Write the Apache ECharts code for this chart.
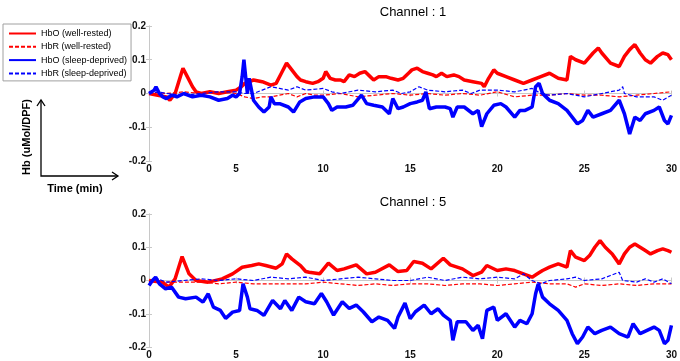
<!DOCTYPE html>
<html>
<head>
<meta charset="utf-8">
<script src="https://cdn.jsdelivr.net/npm/echarts@6/dist/echarts.min.js"></script>
<style>
  html, body { margin: 0; padding: 0; background: #fff; }
  #chart { width: 680px; height: 361px; }
</style>
</head>
<body>
<div id="chart"></div>
<script>
// series names / titles
const seriesNames = ["HbO (well-rested)", "HbR (well-rested)", "HbO (sleep-deprived)", "HbR (sleep-deprived)"];
const channelTitles = ["Channel : 1", "Channel : 5"];

// Channel 1 — [time (min), Hb]
const ch1HboRested = [
    [0, 0], [0.5, -0.005], [1, -0.01], [1.2, -0.02], [1.5, 0], [1.8, 0.05], [1.95, 0.075], [2.2, 0.05],
    [2.5, 0.02], [2.7, 0.005], [3, 0], [3.5, 0.005], [4, 0], [4.5, 0.005], [5, 0.01], [5.3, 0.02],
    [5.5, 0.03], [6, 0.04], [6.5, 0.035], [7, 0.025], [7.3, 0.03], [7.6, 0.06], [7.9, 0.09], [8.2, 0.07],
    [8.5, 0.05], [8.7, 0.04], [9, 0.035], [9.4, 0.03], [9.7, 0.035], [10, 0.045], [10.15, 0.065], [10.4, 0.045],
    [10.7, 0.04], [11, 0.04], [11.2, 0.035], [11.5, 0.055], [11.8, 0.05], [12.1, 0.06], [12.4, 0.065], [12.7, 0.05],
    [12.9, 0.04], [13.2, 0.05], [13.6, 0.05], [13.9, 0.045], [14.3, 0.04], [14.6, 0.045], [14.9, 0.06], [15.1, 0.07],
    [15.4, 0.075], [15.7, 0.065], [16, 0.06], [16.3, 0.055], [16.5, 0.05], [16.8, 0.06], [17.1, 0.05], [17.5, 0.055],
    [17.8, 0.05], [18.1, 0.04], [18.6, 0.035], [19.1, 0.03], [19.25, 0.02], [19.5, 0.045], [19.8, 0.07], [20, 0.06],
    [20.5, 0.05], [21, 0.04], [21.5, 0.03], [22, 0.04], [22.5, 0.05], [23, 0.06], [23.5, 0.045], [24, 0.04],
    [24.2, 0.11], [24.5, 0.1], [25, 0.09], [25.5, 0.12], [25.8, 0.135], [26, 0.12], [26.5, 0.09], [27, 0.08],
    [27.3, 0.11], [27.6, 0.13], [27.9, 0.145], [28.2, 0.12], [28.5, 0.1], [28.8, 0.09], [29.2, 0.11], [29.5, 0.12],
    [29.8, 0.115], [30, 0.1]
];
const ch1HbrRested = [
    [0, 0.005], [1, 0], [2, 0.005], [3, 0], [4, 0.005], [5, 0], [5.5, -0.01], [6, -0.015], [6.5, -0.01],
    [7, -0.01], [7.5, -0.005], [8, 0], [8.5, -0.01], [9, 0], [9.5, -0.005], [10, -0.005], [11, 0],
    [11.5, -0.005], [12, -0.01], [13, -0.005], [14, 0], [15, -0.005], [16, 0], [17, -0.005], [18, 0],
    [19, -0.005], [20, 0.005], [21, -0.01], [22, -0.005], [23, -0.005], [24, 0], [25, -0.005], [26, -0.005],
    [27, -0.01], [28, -0.005], [29, 0], [30, 0.005]
];
const ch1HboDeprived = [
    [0, 0], [0.3, 0.01], [0.4, 0.02], [0.6, 0], [0.8, -0.01], [1, -0.015], [1.3, -0.005], [1.6, -0.01],
    [2, 0], [2.5, -0.01], [3, -0.005], [3.5, -0.01], [4, -0.02], [4.5, -0.015], [4.8, -0.005], [5, -0.01],
    [5.2, 0], [5.35, 0.05], [5.45, 0.1], [5.55, 0.05], [5.65, 0], [5.75, 0.045], [5.85, 0.02], [6, -0.02],
    [6.3, -0.04], [6.6, -0.055], [6.9, -0.04], [7, -0.01], [7.2, -0.03], [7.5, -0.03], [8, -0.04], [8.3, -0.055],
    [8.66, -0.025], [9, -0.015], [9.5, -0.01], [10, -0.01], [10.3, -0.03], [10.5, -0.05], [10.8, -0.04], [11.3, -0.04],
    [11.7, -0.035], [12.2, -0.005], [12.5, -0.03], [12.9, -0.035], [13.4, -0.04], [13.8, -0.06], [14, -0.015], [14.3, -0.045],
    [14.6, -0.04], [15, -0.03], [15.4, -0.025], [15.7, -0.02], [15.9, 0.005], [16.1, -0.045], [16.5, -0.04], [17, -0.04],
    [17.3, -0.045], [17.45, -0.07], [17.7, -0.04], [18.1, -0.04], [18.6, -0.06], [18.9, -0.05], [19.1, -0.098], [19.4, -0.06],
    [19.8, -0.035], [20.2, -0.03], [20.5, -0.04], [21, -0.07], [21.3, -0.05], [21.6, -0.05], [22, -0.04], [22.2, 0.02],
    [22.4, 0.03], [22.6, 0], [22.8, -0.01], [23, -0.02], [23.5, -0.03], [24, -0.05], [24.3, -0.07], [24.6, -0.09],
    [24.9, -0.08], [25.2, -0.05], [25.5, -0.07], [26, -0.06], [26.5, -0.05], [27, -0.02], [27.3, -0.06], [27.6, -0.12],
    [27.9, -0.07], [28.2, -0.08], [28.5, -0.06], [29, -0.05], [29.3, -0.04], [29.6, -0.08], [29.8, -0.09], [30, -0.065]
];
const ch1HbrDeprived = [
    [0, 0], [0.5, 0.005], [1, 0], [2, -0.005], [3, 0], [4, 0.005], [5, 0.005], [5.5, 0], [6, 0], [6.5, 0.01],
    [7, 0.02], [7.5, 0.015], [8, 0.01], [8.5, 0.02], [9, 0.01], [10, 0.015], [10.5, 0.005], [11, 0], [12, 0.01],
    [13, 0.005], [14, 0.01], [14.5, 0], [15, 0.005], [15.5, 0.02], [16, 0.01], [17, 0.005], [18, 0.01], [18.5, 0],
    [19, 0.01], [20, 0.01], [21, 0.005], [22, 0.015], [22.5, 0], [23, -0.005], [24, 0], [25, -0.01], [26, 0],
    [26.5, 0.005], [27, 0.01], [27.2, 0.02], [27.3, 0], [28, -0.01], [29, -0.01], [29.5, -0.02], [30, -0.005]
];

// Channel 5 — [time (min), Hb]
const ch5HboRested = [
    [0, 0], [0.76, -0.005], [1.15, -0.02], [1.5, 0.005], [1.9, 0.072], [2.3, 0.02], [2.7, 0], [3.4, -0.005],
    [4.2, 0.005], [4.8, 0.02], [5.35, 0.04], [5.9, 0.045], [6.3, 0.05], [6.7, 0.045], [7.3, 0.037], [7.65, 0.05],
    [7.9, 0.08], [8.2, 0.065], [8.7, 0.045], [9, 0.027], [9.2, 0.025], [9.8, 0.02], [10.3, 0.052], [10.8, 0.03],
    [11.2, 0.035], [11.9, 0.047], [12.5, 0.02], [13, 0.025], [13.8, 0.047], [14.3, 0.027], [14.8, 0.03], [15.2, 0.057],
    [15.7, 0.052], [16.2, 0.035], [16.9, 0.067], [17.3, 0.047], [18, 0.035], [18.6, 0.015], [19.1, 0.025], [19.4, 0.045],
    [20, 0.03], [20.5, 0.035], [21, 0.03], [21.5, 0.02], [22, 0.01], [22.3, 0.02], [22.6, 0.03], [23, 0.04],
    [23.5, 0.05], [24, 0.04], [24.2, 0.09], [24.5, 0.07], [25, 0.06], [25.3, 0.075], [25.6, 0.1], [25.9, 0.12],
    [26.2, 0.1], [26.6, 0.08], [27, 0.05], [27.3, 0.08], [27.6, 0.1], [27.9, 0.11], [28.2, 0.1], [28.5, 0.09],
    [28.8, 0.08], [29.2, 0.09], [29.5, 0.095], [29.8, 0.09], [30, 0.085]
];
const ch5HbrRested = [
    [0, 0], [1, -0.005], [2, -0.005], [3, -0.005], [4, -0.01], [5, -0.005], [6, -0.01], [7, -0.01], [8, -0.01],
    [9, -0.01], [10, -0.005], [11, -0.01], [12, -0.015], [13, -0.01], [14, -0.015], [15, -0.01], [16, -0.01],
    [17, -0.015], [18, -0.01], [19, -0.01], [20, -0.015], [21, -0.01], [22, -0.005], [23, -0.01], [24, -0.01],
    [24.5, -0.02], [25, -0.01], [26, -0.015], [27, -0.01], [28, -0.015], [29, -0.01], [30, -0.01]
];
const ch5HboDeprived = [
    [0, -0.015], [0.2, 0], [0.38, 0.01], [0.6, -0.01], [0.95, -0.025], [1.3, -0.02], [1.7, -0.05], [2.1, -0.055],
    [2.7, -0.05], [3.1, -0.065], [3.4, -0.04], [3.7, -0.08], [4.1, -0.09], [4.4, -0.114], [4.8, -0.095], [5.2, -0.09],
    [5.4, -0.01], [5.65, -0.05], [5.8, -0.085], [6.2, -0.09], [6.6, -0.105], [7.1, -0.06], [7.55, -0.085], [7.8, -0.06],
    [8.2, -0.09], [8.6, -0.05], [9, -0.064], [9.5, -0.07], [9.9, -0.039], [10.2, -0.064], [10.6, -0.104], [11.1, -0.064],
    [11.5, -0.084], [11.9, -0.074], [12.3, -0.094], [12.8, -0.124], [13.2, -0.11], [13.7, -0.12], [14.1, -0.144], [14.3, -0.11],
    [14.7, -0.068], [15, -0.115], [15.3, -0.094], [15.8, -0.074], [16.2, -0.1], [16.6, -0.085], [16.9, -0.104], [17.3, -0.12],
    [17.45, -0.18], [17.7, -0.124], [18.2, -0.124], [18.6, -0.15], [18.9, -0.135], [19.15, -0.175], [19.4, -0.09], [19.8, -0.08],
    [20, -0.12], [20.5, -0.1], [21, -0.14], [21.3, -0.12], [21.7, -0.13], [22, -0.1], [22.2, -0.04], [22.35, -0.01],
    [22.6, -0.05], [23, -0.07], [23.5, -0.09], [24, -0.12], [24.3, -0.16], [24.6, -0.19], [24.9, -0.17], [25.2, -0.14],
    [25.6, -0.16], [26, -0.15], [26.5, -0.14], [27, -0.16], [27.5, -0.17], [27.8, -0.13], [28.2, -0.16], [28.6, -0.15],
    [29, -0.14], [29.3, -0.15], [29.6, -0.19], [29.8, -0.18], [30, -0.135]
];
const ch5HbrDeprived = [
    [0, -0.005], [0.5, 0.005], [1, -0.005], [2, 0], [3, 0.005], [4, 0], [5, 0.005], [6, 0], [7, 0.01], [8, 0.005],
    [9, 0.01], [10, 0], [11, 0.005], [12, 0.01], [13, 0.005], [14, 0], [15, 0], [16, 0.01], [16.5, 0.005], [17, 0],
    [18, 0.01], [19, 0.005], [20, 0.01], [21, 0.005], [21.5, 0.02], [22, 0], [22.5, -0.01], [23, 0], [24, 0.005],
    [24.5, 0.01], [25, 0], [26, 0.005], [26.5, 0.015], [27, 0.025], [27.2, 0], [28, -0.005], [28.5, 0.005],
    [29, -0.005], [29.5, 0.005], [30, -0.01]
];

const channelData = [
    [ch1HboRested, ch1HbrRested, ch1HboDeprived, ch1HbrDeprived],
    [ch5HboRested, ch5HbrRested, ch5HboDeprived, ch5HbrDeprived]
];

const lineStyles = [
    { color: "#ff0000", width: 3.5, type: "solid" },
    { color: "#ff0000", width: 1.2, type: [4, 2] },
    { color: "#0000ff", width: 3.5, type: "solid" },
    { color: "#0000ff", width: 1.2, type: [4, 2] }
];

const FONT = "Liberation Sans, Arial, sans-serif";
const grids = [
    { left: 149, right: 7, top: 26, height: 135 },
    { left: 149, right: 7, top: 214, height: 133 }
];

const chart = echarts.init(document.getElementById("chart"));

const xAxes = [];
const yAxes = [];
grids.forEach((g, i) => {
    xAxes.push({
        type: "value", gridIndex: i, min: 0, max: 30, interval: 5,
        axisLine: { lineStyle: { color: "#c8c8c8" } },
        axisTick: { inside: true, length: 3, lineStyle: { color: "#c8c8c8" } },
        axisLabel: { color: "#111", fontSize: 10, fontWeight: "bold", fontFamily: FONT, margin: 3 },
        splitLine: { show: false }
    });
    yAxes.push({
        type: "value", gridIndex: i, min: -0.2, max: 0.2, interval: 0.1,
        axisLine: { show: true, lineStyle: { color: "#c8c8c8" } },
        axisTick: { show: true, inside: true, length: 3, lineStyle: { color: "#c8c8c8" } },
        axisLabel: { color: "#111", fontSize: 10, fontWeight: "bold", fontFamily: FONT, margin: 3 },
        splitLine: { show: false }
    });
});
// top / right box axes
grids.forEach((g, i) => {
    xAxes.push({
        type: "value", gridIndex: i, position: "top", min: 0, max: 30, interval: 5,
        axisLine: { lineStyle: { color: "#c8c8c8" } },
        axisTick: { inside: true, length: 3, lineStyle: { color: "#c8c8c8" } },
        axisLabel: { show: false }, splitLine: { show: false }
    });
    yAxes.push({
        type: "value", gridIndex: i, position: "right", min: -0.2, max: 0.2, interval: 0.1,
        axisLine: { show: true, lineStyle: { color: "#c8c8c8" } },
        axisTick: { show: true, inside: true, length: 3, lineStyle: { color: "#c8c8c8" } },
        axisLabel: { show: false }, splitLine: { show: false }
    });
});

const series = [];
channelData.forEach((chan, gi) => {
    chan.forEach((data, si) => {
        series.push({
            name: seriesNames[si],
            type: "line",
            xAxisIndex: gi,
            yAxisIndex: gi,
            data: data,
            symbol: "none",
            lineStyle: lineStyles[si],
            itemStyle: { color: lineStyles[si].color },
            animation: false
        });
    });
});

chart.setOption({
    backgroundColor: "#fff",
    animation: false,
    title: channelTitles.map((t, i) => ({
        text: t,
        left: 408,
        textAlign: "center",
        top: i === 0 ? 1 : 191,
        textStyle: { fontSize: 13, fontWeight: "normal", color: "#000", fontFamily: FONT }
    })),
    legend: {
        orient: "vertical",
        left: 3,
        top: 24,
        data: seriesNames,
        itemWidth: 27,
        itemHeight: 10,
        itemGap: 4.3,
        padding: [5, 4, 3, 5],
        backgroundColor: "#fff",
        borderColor: "#a0a0a0",
        borderWidth: 1,
        borderRadius: 0,
        itemStyle: { opacity: 0 },
        textStyle: { fontSize: 9, color: "#000", fontFamily: FONT }
    },
    grid: grids,
    xAxis: xAxes,
    yAxis: yAxes,
    series: series,
    graphic: [
        // axis key sketch
        { type: "polyline", shape: { points: [[41, 100], [41, 176], [118, 176]] }, style: { stroke: "#000", lineWidth: 1.3, fill: null } },
        { type: "polyline", shape: { points: [[37, 106], [41, 100], [45, 106]] }, style: { stroke: "#000", lineWidth: 1.3, fill: null } },
        { type: "polyline", shape: { points: [[112, 172], [118, 176], [112, 180]] }, style: { stroke: "#000", lineWidth: 1.3, fill: null } },
        {
            type: "text", x: 27, y: 137, rotation: Math.PI / 2,
            style: { text: "Hb (uMol/DPF)", fontSize: 11, fontWeight: "bold", fontFamily: FONT, fill: "#000", align: "center", verticalAlign: "middle" }
        },
        {
            type: "text", x: 75, y: 189,
            style: { text: "Time (min)", fontSize: 11, fontWeight: "bold", fontFamily: FONT, fill: "#000", align: "center", verticalAlign: "middle" }
        }
    ]
});
</script>
</body>
</html>
